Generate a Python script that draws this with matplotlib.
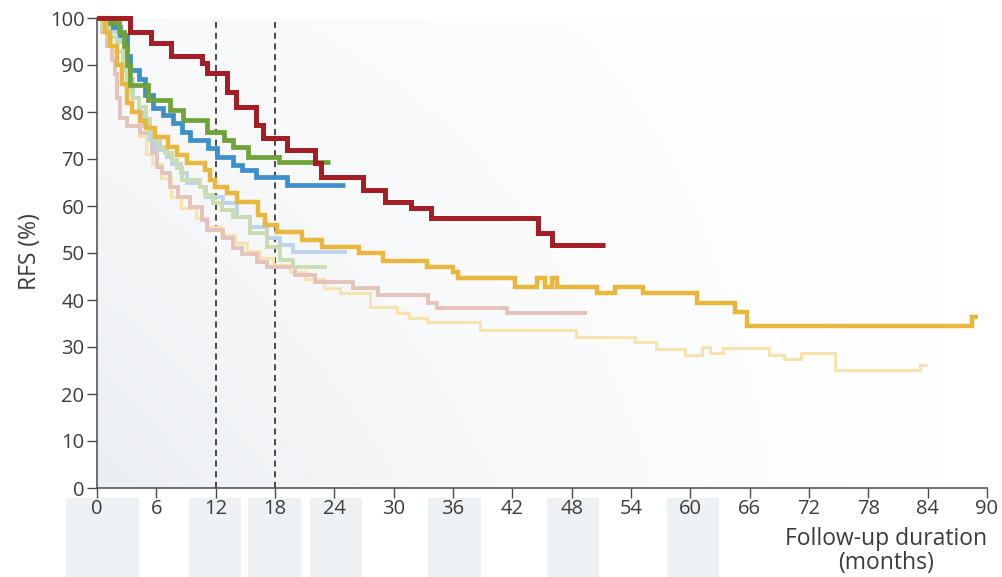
import matplotlib
matplotlib.use("Agg")
import matplotlib.pyplot as plt
import numpy as np
from matplotlib.patches import Rectangle
from matplotlib.transforms import blended_transform_factory

plt.rcParams["font.family"] = ["Open Sans", "DejaVu Sans"]

INK = "#3c3c3c"
AXIS = "#4a4a4a"

# --- step curves: start time of each level (months) and RFS level (%) ---
pale_yellow_t = [0, 0.5, 1.0, 1.5, 2.5, 3.0, 3.5, 4.2, 5.0, 5.6, 6.5, 7.5, 8.5, 10.0,
                 11.2, 12.5, 14.0, 15.2, 16.5, 17.8, 19.5, 21.0, 23.0, 24.6, 27.6, 30.3,
                 31.6, 33.4, 38.7, 48.4, 54.4, 56.5, 59.5, 61.2, 62.0, 63.3, 68.0, 69.5,
                 71.2, 74.6, 83.2, 83.9]
pale_yellow_v = [100, 98, 96, 93, 90, 85, 80, 75, 71, 69, 66, 62, 59.5, 57.5,
                 55.5, 53.8, 52.2, 50.5, 49.0, 47.5, 46, 44.5, 42.5, 41.4, 38.6, 37.2,
                 36.1, 35.4, 33.6, 32.2, 31.1, 29.6, 28.4, 30.1, 28.7, 29.8, 28.3, 27.4,
                 28.8, 25.2, 26.2, 26.2]

pink_t = [0, 0.5, 1.0, 1.5, 1.8, 2.0, 2.3, 3.0, 4.3, 5.6, 6.1, 6.6, 7.4, 8.2, 9.4,
          10.6, 11.1, 12.7, 13.8, 14.7, 16.2, 17.2, 20.0, 22.0, 25.9, 28.4, 33.5,
          34.4, 41.5, 49.6]
pink_v = [100, 97, 94, 91, 88, 83, 78.7, 77, 75.5, 71.3, 68.3, 67, 64, 62, 59.8,
          57, 54.9, 53.2, 51.0, 49.8, 48.1, 47, 45.3, 43.9, 42.5, 41.1, 39.3,
          38.2, 37.2, 37.2]

light_blue_t = [0, 0.8, 1.6, 2.3, 2.8, 3.2, 3.6, 4.2, 4.8, 5.4, 6.0, 7.1, 7.6, 8.5,
                9.1, 10.4, 11.0, 12.7, 14.2, 15.5, 17.2, 18.5, 19.8, 25.3]
light_blue_v = [100, 99, 97, 95, 91, 87, 83, 80, 77, 74, 72, 70.5, 69, 67,
                65, 64, 62, 60.6, 57.7, 55.5, 53.2, 51.8, 50.3, 50.3]

light_green_t = [0, 0.5, 1.2, 2.0, 2.6, 3.0, 3.5, 4.2, 5.0, 5.4, 5.8, 6.4, 6.9, 7.6,
                 8.1, 8.6, 10.4, 10.9, 11.7, 12.6, 13.8, 15.5, 17.2, 18.5, 19.8, 23.3]
light_green_v = [100, 98, 96, 93, 89, 86, 83, 81, 78.5, 76, 74, 72.6, 71.3, 69.8,
                 68.1, 65.5, 64, 62.3, 60.6, 59.1, 57.7, 54.3, 51.3, 48.5, 47, 47]

gold_t = [0, 0.8, 1.3, 2.0, 2.5, 3.0, 3.5, 4.3, 5.0, 5.9, 7.2, 8.1, 9.1, 10.9, 11.4,
          11.9, 13.1, 14.2, 16.3, 17.0, 18.2, 20.7, 22.8, 26.5, 28.9, 33.4, 36.0,
          36.5, 42.3, 44.5, 45.3, 46.0, 46.5, 50.6, 52.4, 55.2, 60.7, 64.5, 65.7,
          88.5, 89.1]
gold_v = [100, 97, 94, 90, 86, 82, 80, 78, 76.5, 74.7, 72.6, 70.9, 69.1, 67.7, 65.5,
          64.1, 62.7, 60.8, 58.1, 56.0, 54.5, 52.8, 51.3, 49.9, 48.2, 47.1, 46.0,
          44.6, 42.8, 44.6, 42.8, 44.6, 42.8, 41.4, 42.8, 41.4, 39.3, 37.5, 34.5,
          36.3, 36.3]

blue_t = [0, 1.6, 2.3, 3.0, 3.3, 4.2, 4.9, 5.7, 6.7, 7.7, 8.6, 9.4, 11.2, 12.1, 13.8,
          14.7, 16.1, 19.2, 25.1]
blue_v = [100, 98, 96.4, 92, 88.9, 87.0, 83.6, 80.8, 79.4, 77.6, 75.8, 74.0, 72.3,
          70.5, 68.7, 67.7, 66.2, 64.5, 64.5]

green_t = [0, 1.3, 2.2, 2.7, 3.0, 3.3, 5.2, 7.4, 8.7, 11.1, 12.8, 13.8, 15.3, 18.4, 23.6]
green_v = [100, 99, 97, 94, 90, 85.7, 82.6, 80.4, 78.3, 75.8, 74.0, 72.6, 70.5, 69.3, 69.3]

red_t = [0, 3.3, 5.5, 7.5, 10.6, 11.1, 13.1, 14.1, 16.1, 16.8, 19.2, 22.0, 22.7,
         26.9, 29.1, 31.8, 33.8, 44.6, 46.0, 51.4]
red_v = [100, 97, 94.6, 92, 90.4, 88.2, 84.3, 81.1, 77.2, 74.4, 71.9, 69.1, 66.2,
         63.4, 60.9, 59.5, 57.4, 54.2, 51.7, 51.7]

curves = [
    (pale_yellow_t, pale_yellow_v, "#f8e2ae", 2.2),
    (pink_t, pink_v, "#e6c3ba", 2.8),
    (light_blue_t, light_blue_v, "#bcd4eb", 2.8),
    (light_green_t, light_green_v, "#cadcb0", 2.8),
    (gold_t, gold_v, "#e9b73e", 3.2),
    (blue_t, blue_v, "#3e8fcb", 3.4),
    (green_t, green_v, "#70a338", 3.4),
    (red_t, red_v, "#a31e25", 3.6),
]

dashed_months = [12, 18]
# month ranges of the grey columns behind the x tick labels
label_blocks = [(-3.1, 4.2), (9.3, 14.6), (15.3, 20.6), (21.5, 26.8), (33.5, 38.8),
                (45.5, 50.8), (57.6, 62.9)]

fig = plt.figure(figsize=(10.02, 5.77), dpi=100)
ax = fig.add_axes([97 / 1002, 1 - 488 / 577, 890 / 1002, 470 / 577])
ax.set_xlim(0, 90)
ax.set_ylim(0, 100)

# soft grey wash from the lower left
xx, yy = np.meshgrid(np.linspace(0, 1, 300), np.linspace(0, 1, 200))
shade = np.clip(1 - xx * 1.05, 0, 1) ** 1.3 * (0.35 + 0.65 * (1 - yy))
base = np.array([0.925, 0.937, 0.950])
img = 1 - shade[..., None] * (1 - base)
ax.imshow(img, extent=[0, 90, 0, 100], origin="lower", aspect="auto", zorder=0)

trans = blended_transform_factory(ax.transData, ax.transAxes)
for x0, x1 in label_blocks:
    ax.add_patch(Rectangle((x0, -0.19), x1 - x0, 0.19 - 0.0213, transform=trans,
                           facecolor="#eef1f4", edgecolor="none", clip_on=False,
                           zorder=0))

for m in dashed_months:
    ax.plot([m, m], [0, 100], color="#1a1a1a", lw=1.1, dashes=(4, 3), zorder=1)

for t, v, c, lw in curves:
    ax.step(t, v, where="post", color=c, lw=lw, clip_on=False, zorder=2,
            solid_joinstyle="miter", solid_capstyle="butt")

for s in ("top", "right"):
    ax.spines[s].set_visible(False)
for s in ("left", "bottom"):
    ax.spines[s].set_color(AXIS)
    ax.spines[s].set_linewidth(1.1)

ax.set_xticks(range(0, 91, 6))
ax.set_yticks(range(0, 101, 10))
ax.tick_params(direction="out", length=7, width=1.0, color=AXIS,
               labelsize=14.5, labelcolor=INK, pad=2)
ax.tick_params(axis="x", pad=1)

fig.text(30 / 1002, 1 - 252 / 577, "RFS (%)", rotation=90, ha="center",
         va="center", fontsize=16.5, color=INK)
fig.text(886 / 1002, 1 - 551 / 577, "Follow-up duration\n(months)", ha="center",
         va="center", fontsize=16.5, color=INK, linespacing=1.05)

fig.savefig("out.png", dpi=100, facecolor="white")
